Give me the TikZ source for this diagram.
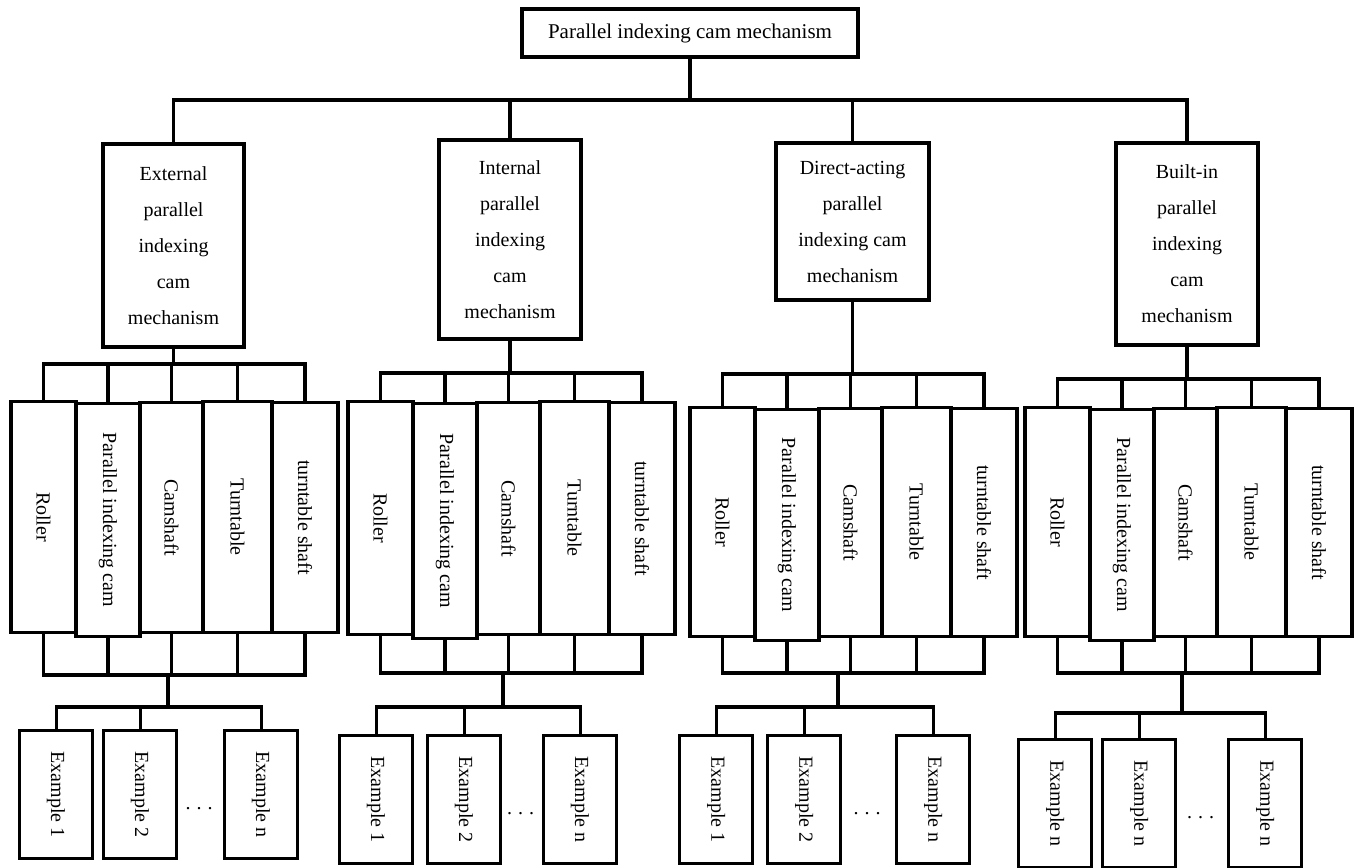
\documentclass[tikz,border=0pt]{standalone}
\usepackage{fontspec}
\setmainfont{Liberation Serif}

\begin{document}
\begin{tikzpicture}[x=1pt, y=-1pt, line width=3.1pt, line cap=rect,
  every node/.style={font=\fontsize{20}{36}\selectfont, inner sep=0pt},
  box/.style={draw, align=center},
  part/.style={draw, minimum width=#1, anchor=north}]
  \useasboundingbox (0,0) rectangle (1362,867);

  \node[box, minimum width=336, minimum height=48, font=\fontsize{21}{36}\selectfont] (mech) at (690,33) {Parallel indexing cam mechanism};
  \node[box, minimum width=141, minimum height=203] (ext) at (173.5,245.5) {External\\parallel\\indexing\\cam\\mechanism};
  \node[box, minimum width=142, minimum height=199] (int) at (510,239.5) {Internal\\parallel\\indexing\\cam\\mechanism};
  \node[box, minimum width=153, minimum height=157] (dir) at (852.5,221.5) {Direct-acting\\parallel\\indexing cam\\mechanism};
  \node[box, minimum width=142, minimum height=202] (bui) at (1187,244) {Built-in\\parallel\\indexing\\cam\\mechanism};

  \coordinate (bus) at (0,100);
  \draw (mech.south) -- (mech.south |- bus);
  \draw (ext.north) |- (bui.north |- bus) -- (bui.north);
  \draw (int.north) -- (int.north |- bus);
  \draw (dir.north) -- (dir.north |- bus);

  % group / left x / part top / part bottom / buses / drop x / example bus / example x / example top / numbers / parent
  \foreach \g/\x/\yt/\yb/\ba/\bb/\dx/\be/\ea/\eb/\ec/\ey/\na/\nb/\up in {
      1/11/400/631/364/675/168/707/18/102/223/729/1/2/ext,
      2/348/400/633/373/673/503/707/338/426/542/734/1/2/int,
      3/690/406/635/374/673/838/707/678/766/895/734/1/2/dir,
      4/1025/406/635/379/673/1182/713/1017/1101/1227/738/n/n/bui}{
    \coordinate (ua\g) at (0,\ba);
    \coordinate (ub\g) at (0,\bb);
    \coordinate (ue\g) at (0,\be);
    \coordinate (k\g) at (\dx,\bb);
    \foreach \i/\c/\w/\dt/\db/\txt in {1/32.5/65/0/0/Roller, 2/97/64/2/4/Parallel indexing cam,
        3/160.5/63/1/0/Camshaft, 4/226.5/69/0/0/Turntable, 5/294/66/1/0/turntable shaft}{
      \node[part=\w, minimum height=\yb-\yt+\db-\dt] (p\g-\i) at (\x+\c,\yt+\dt) {};
      \node[rotate=-90] (t\g-\i) at (p\g-\i) {\txt};
      \draw (p\g-\i.north) -- (p\g-\i.north |- ua\g);
      \draw (p\g-\i.south) -- (p\g-\i.south |- ub\g);
    }
    \draw (\up.south) -- (\up.south |- ua\g);
    \draw (p\g-1.north |- ua\g) -- (p\g-5.north |- ua\g);
    \draw (p\g-1.south |- ub\g) -- (p\g-5.south |- ub\g);
    \draw (k\g) -- (k\g |- ue\g);
    \foreach \j/\ex/\nm in {1/\ea/\na, 2/\eb/\nb, 3/\ec/n}{
      \node[part=73, minimum height=128, anchor=north west] (e\g-\j) at (\ex,\ey) {};
      \node[rotate=-90] (te\g-\j) at (e\g-\j) {Example \nm};
      \draw (e\g-\j.north) -- (e\g-\j.north |- ue\g);
    }
    \draw (e\g-1.north |- ue\g) -- (e\g-3.north |- ue\g);
    \node (dots\g) at ({(\eb+73+\ec)/2},\ey+80) {.\hspace{6pt}.\hspace{6pt}.};
  }
\end{tikzpicture}
\end{document}
